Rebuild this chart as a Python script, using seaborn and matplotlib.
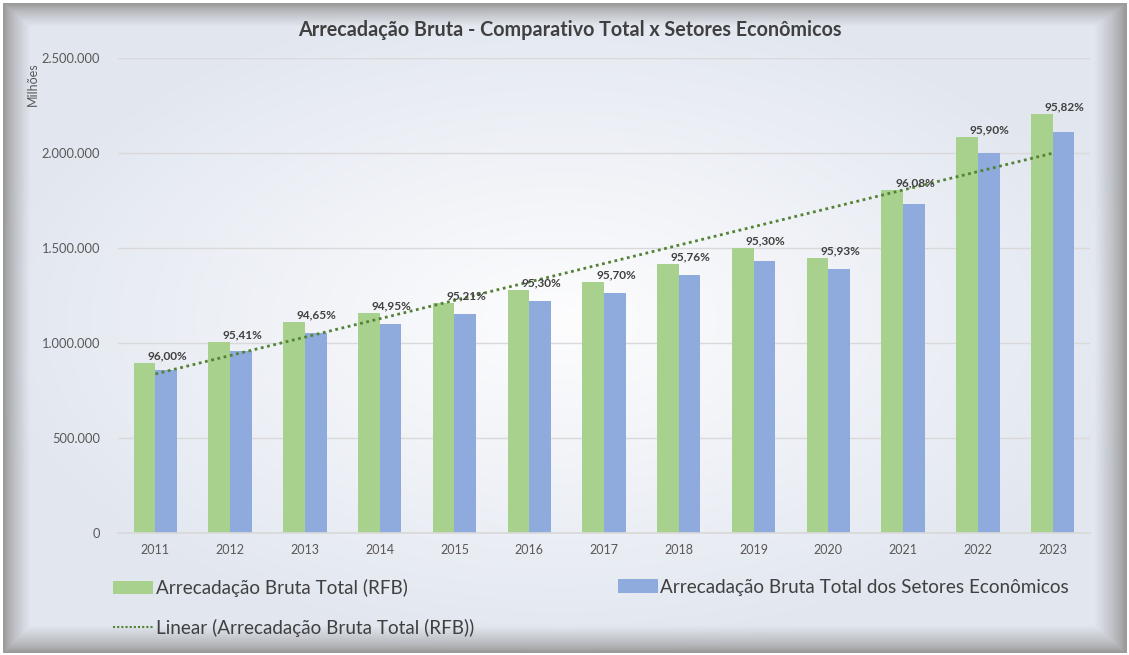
import numpy as np
import pandas as pd
import matplotlib
matplotlib.use("Agg")
import matplotlib.pyplot as plt
import seaborn as sns
from matplotlib.patches import Patch
from matplotlib.lines import Line2D
from matplotlib.ticker import FuncFormatter

# ---- data ----
years = ["2011", "2012", "2013", "2014", "2015", "2016", "2017",
         "2018", "2019", "2020", "2021", "2022", "2023"]
total_rfb = [895000, 1005000, 1110000, 1158000, 1210000, 1279000, 1321000,
             1416000, 1500000, 1447000, 1805000, 2084000, 2205000]
total_setores = [859000, 959000, 1051000, 1100000, 1152000, 1219000, 1264000,
                 1356000, 1430000, 1388000, 1734000, 1999000, 2113000]
pct_labels = ["96,00%", "95,41%", "94,65%", "94,95%", "95,21%", "95,30%", "95,70%",
              "95,76%", "95,30%", "95,93%", "96,08%", "95,90%", "95,82%"]
series_names = ["Arrecadação Bruta Total (RFB)",
                "Arrecadação Bruta Total dos Setores Econômicos"]
trend_name = "Linear (Arrecadação Bruta Total (RFB))"
title = "Arrecadação Bruta - Comparativo Total x Setores Econômicos"
y_label = "Milhões"

GREEN = "#a9d18e"
BLUE = "#8faadc"
TREND = "#548235"
TXT = "#595959"

sns.set_theme(style="white")
plt.rcParams["font.family"] = ["Lato", "DejaVu Sans"]

W, H = 1129, 655
fig = plt.figure(figsize=(W / 100, H / 100), dpi=100)
fig.patch.set_facecolor("white")

# ---- background frame (gradient + shadow border) ----
yy, xx = np.mgrid[0:H, 0:W].astype(float)
cx, cy = 560, 320
r = np.sqrt(((xx - cx) / 600) ** 2 + ((yy - cy) / 340) ** 2)
r = np.clip(r, 0, 1)
center = np.array([253, 253, 254]) / 255
edge = np.array([225, 230, 239]) / 255
base = center[None, None, :] * (1 - r[..., None]) + edge[None, None, :] * r[..., None]
dl = (xx - 4) / 26
dt = (yy - 4) / 22
dr = (1124 - xx) / 30
db = (651 - yy) / 26
s = np.clip(np.minimum(np.minimum(dl, dt), np.minimum(dr, db)), 0, 1)
s = s ** 0.75
gray = np.array([155, 155, 155]) / 255
img = gray[None, None, :] * (1 - s[..., None]) + base * s[..., None]
outside = (xx < 3) | (yy < 3) | (xx > 1126) | (yy > 652)
img[outside] = 1.0
fig.figimage(img, 0, 0, zorder=-10, origin="upper")

# ---- axes ----
ax = fig.add_axes([118 / W, 1 - 533 / H, (1090 - 118) / W, (533 - 58) / H])
ax.set_facecolor("none")

df = pd.DataFrame({
    "ano": years * 2,
    "serie": [series_names[0]] * len(years) + [series_names[1]] * len(years),
    "valor": total_rfb + total_setores,
})
sns.barplot(data=df, x="ano", y="valor", hue="serie", hue_order=series_names,
            palette=[GREEN, BLUE], width=0.58, gap=0, saturation=1,
            linewidth=0, edgecolor="none", legend=False, ax=ax, zorder=2)

# linear trendline of total
xi = np.arange(len(years))
coef = np.polyfit(xi, total_rfb, 1)
ax.plot(xi, np.polyval(coef, xi), color=TREND, lw=2.0,
        linestyle=(0, (1, 1.3)), zorder=4)

# percent labels
for i, (v, lab) in enumerate(zip(total_rfb, pct_labels)):
    ax.annotate(lab, (i + 0.16, v), xytext=(0, 1), textcoords="offset points",
                ha="center", va="bottom", fontsize=8.5, fontweight="bold",
                color="#404040", zorder=5)

ax.set_xlim(-0.5, len(years) - 0.5)
ax.set_ylim(0, 2500000)
ax.set_yticks(np.arange(0, 2500001, 500000))
ax.yaxis.set_major_formatter(FuncFormatter(lambda v, p: f"{int(v):,}".replace(",", ".")))
ax.grid(axis="y", color="#d9d9d9", lw=1, zorder=0)
ax.set_axisbelow(True)
for sp in ["top", "right", "left"]:
    ax.spines[sp].set_visible(False)
ax.spines["bottom"].set_color("#d9d9d9")
ax.tick_params(axis="y", length=0, pad=13, labelsize=9.3, labelcolor=TXT)
ax.tick_params(axis="x", length=0, pad=8, labelsize=9, labelcolor=TXT)
ax.set_xlabel("")
ax.set_ylabel("")

fig.text(570 / W, 1 - 30 / H, title, ha="center", va="center",
         fontsize=14.2, fontweight="bold", color="#404040")
fig.text(33 / W, 1 - 84 / H, y_label, rotation=90, ha="center", va="center",
         fontsize=9, color=TXT)

# ---- legends ----
h_green = Patch(facecolor=GREEN, edgecolor="none", label=series_names[0])
h_blue = Patch(facecolor=BLUE, edgecolor="none", label=series_names[1])
h_trend = Line2D([], [], color=TREND, lw=1.5, linestyle=(0, (1, 1)), label=trend_name)
common = dict(frameon=False, fontsize=13.6, handlelength=2.1, handleheight=0.75,
              handletextpad=0.15, labelcolor="#404040", borderaxespad=0,
              borderpad=0, labelspacing=1.15)
fig.legend(handles=[h_green, h_trend], loc="upper left",
           bbox_to_anchor=(113 / W, 1 - 579 / H), **common)
fig.legend(handles=[h_blue], loc="upper left",
           bbox_to_anchor=(618 / W, 1 - 579 / H), **common)

fig.savefig("out.png", dpi=100)
